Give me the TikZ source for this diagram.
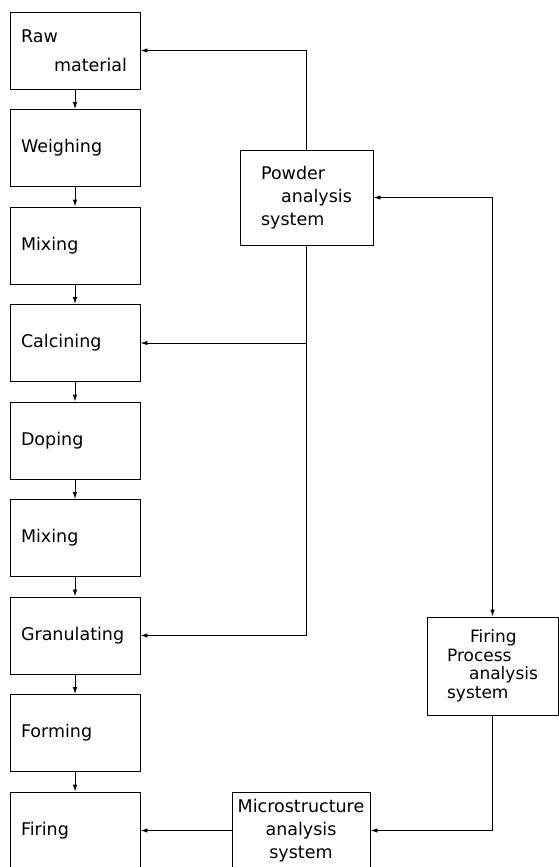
\documentclass[tikz,border=0pt]{standalone}
\usepackage{fontspec}
\setmainfont{DejaVu Sans}
\usepackage{tikz}
\usetikzlibrary{arrows.meta,positioning}

\begin{document}
\begin{tikzpicture}[x=1pt,y=-1pt,->,>={Latex[length=7pt,width=4.5pt]},line width=0.9pt,node distance=97.5pt,
	stepbox/.style={draw,rectangle,minimum height=77pt,text width=108pt,inner xsep=11pt,align=left,font=\fontsize{17.5}{22}\selectfont},
	sysbox/.style={draw,rectangle,inner sep=2pt,font=\fontsize{17.5}{23}\selectfont}]
	\useasboundingbox (0,0) rectangle (559,867);
	\node [stepbox] (raw) at (75,50.5) {Raw\\[7pt]\hspace*{33pt}material};
	\node [stepbox] (weigh) [below of = raw] {Weighing};
	\node [stepbox] (mixa) [below of = weigh] {Mixing};
	\node [stepbox] (calc) [below of = mixa] {Calcining};
	\node [stepbox] (dope) [below of = calc] {Doping};
	\node [stepbox] (mixb) [below of = dope] {Mixing};
	\node [stepbox] (gran) [below of = mixb] {Granulating};
	\node [stepbox] (form) [below of = gran] {Forming};
	\node [stepbox] (fire) [below of = form] {Firing};

	\node [sysbox, minimum width=133pt, minimum height=95pt, align=left] (powder) at (306.5,197.5) {Powder\\\hspace*{20pt}analysis\\system};
	\node [sysbox, minimum width=131pt, minimum height=98pt, align=left, font=\fontsize{17}{18.5}\selectfont] (fproc) at (492.5,666) {\hspace*{23pt}Firing\\Process\\\hspace*{22pt}analysis\\system};
	\node [sysbox, minimum width=138pt, minimum height=77pt, align=center] (micro) at (301,830.5) {Microstructure\\analysis\\system};

	\path (raw) edge (weigh);
	\path (weigh) edge (mixa);
	\path (mixa) edge (calc);
	\path (calc) edge (dope);
	\path (dope) edge (mixb);
	\path (mixb) edge (gran);
	\path (gran) edge (form);
	\path (form) edge (fire);

	\draw (powder.north) |- (raw.east);
	\draw (powder.south) |- (calc.east);
	\draw (powder.south) |- (gran.east);
	\draw [<->] (powder.east) -| (fproc.north);
	\draw (fproc.south) |- (micro.east);
	\draw (micro.west) -- (fire.east);
\end{tikzpicture}
\end{document}
